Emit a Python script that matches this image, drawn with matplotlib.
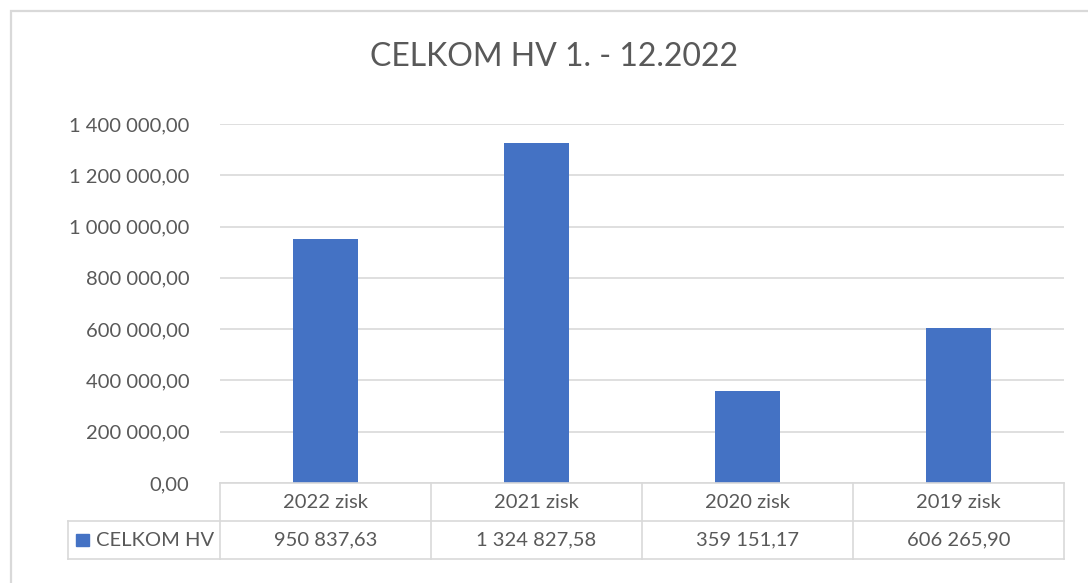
import matplotlib.pyplot as plt
import matplotlib.transforms as mtransforms
from matplotlib.patches import Rectangle

kategorie = ['2022 zisk', '2021 zisk', '2020 zisk', '2019 zisk']
hodnoty = [950837.63, 1324827.58, 359151.17, 606265.90]
nazov_serie = 'CELKOM HV'
titulok = 'CELKOM HV 1. - 12.2022'
y_ticky = [0, 200000, 400000, 600000, 800000, 1000000, 1200000, 1400000]

MODRA = '#4472C4'
SIVA_TEXT = '#595959'
SIVA_CIARA = '#D9D9D9'
PISMO = 'Lato'
VELKOST = 14.5


def formatuj(v):
    s = f'{v:,.2f}'
    return s.replace(',', ' ').replace('.', ',')


W, H = 1088, 583
fig = plt.figure(figsize=(W / 100, H / 100), dpi=100)
plt.rcParams['font.family'] = [PISMO, 'DejaVu Sans']

# ramcek grafu
fig.patches.append(Rectangle((11 / W, -0.05), 1.2, (H - 11) / H + 0.05,
                             transform=fig.transFigure, fill=False,
                             edgecolor=SIVA_CIARA, linewidth=1.6))

x0, x1, y0, y1 = 220, 1064, 483, 124
ax = fig.add_axes([x0 / W, (H - y0) / H, (x1 - x0) / W, (y0 - y1) / H])

x = list(range(len(kategorie)))
ax.bar(x, hodnoty, width=0.31, color=MODRA, zorder=3)
ax.set_xlim(-0.5, len(kategorie) - 0.5)
ax.set_ylim(0, 1400000)
ax.set_yticks(y_ticky)
ax.set_yticklabels([formatuj(v) for v in y_ticky], fontsize=VELKOST, color=SIVA_TEXT)
ax.tick_params(axis='y', length=0, pad=22)
ax.set_xticks([])
ax.grid(axis='y', color=SIVA_CIARA, linewidth=1.2, zorder=0)
for s in ['top', 'right', 'left']:
    ax.spines[s].set_visible(False)
ax.spines['bottom'].set_color(SIVA_CIARA)
ax.spines['bottom'].set_linewidth(1.2)
ax.spines['bottom'].set_zorder(4)

fig.text(554 / W, 1 - 57 / H, titulok, ha='center', va='center',
         fontsize=23, color=SIVA_TEXT)

# tabulka s udajmi
tr = mtransforms.blended_transform_factory(ax.transData, ax.transAxes)
px = (y0 - y1)
r1 = -(521 - y0) / px
r2 = -(559 - y0) / px
lx = -0.5 - (x0 - 68) / ((x1 - x0) / len(kategorie))
n = len(kategorie)
kw = dict(color=SIVA_CIARA, linewidth=1.2, transform=tr, clip_on=False)
ax.plot([lx, n - 0.5], [r1, r1], **kw)
ax.plot([lx, n - 0.5], [r2, r2], **kw)
ax.plot([lx, lx], [r1, r2], **kw)
for i in range(n + 1):
    ax.plot([i - 0.5, i - 0.5], [0, r2], **kw)

for i, (k, v) in enumerate(zip(kategorie, hodnoty)):
    ax.text(i, r1 / 2, k, transform=tr, ha='center', va='center',
            fontsize=VELKOST, color=SIVA_TEXT)
    ax.text(i, (r1 + r2) / 2, formatuj(v), transform=tr, ha='center',
            va='center', fontsize=VELKOST, color=SIVA_TEXT)

fig.patches.append(Rectangle((76 / W, 1 - 546 / H), 13 / W, 12 / H,
                             transform=fig.transFigure, color=MODRA))
fig.text(96 / W, 1 - 540 / H, nazov_serie, ha='left', va='center',
         fontsize=VELKOST, color=SIVA_TEXT)

fig.savefig('out.png', dpi=100)
